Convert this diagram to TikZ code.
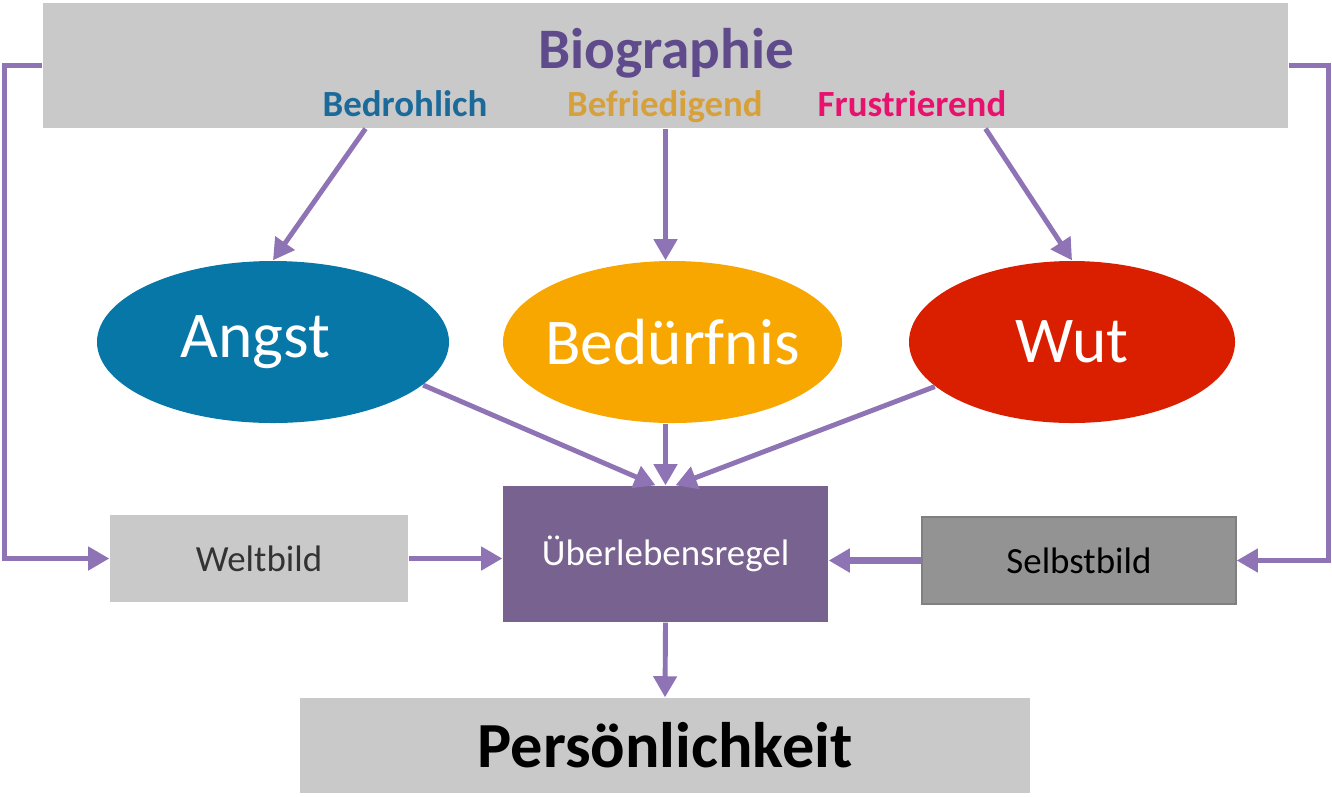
\documentclass[tikz,border=0pt]{standalone}
\usepackage{fontspec}
\setmainfont{Carlito}
\usepackage{xcolor}
\definecolor{bargray}{HTML}{C9C9C9}
\definecolor{biopurple}{HTML}{5F4B8B}
\definecolor{arrowlila}{HTML}{8E73B5}
\definecolor{regelpurple}{HTML}{78628F}
\definecolor{angstblue}{HTML}{0777A8}
\definecolor{bedorange}{HTML}{F7A700}
\definecolor{wutred}{HTML}{DA1F00}
\definecolor{bedrblue}{HTML}{1B6A9A}
\definecolor{befrgold}{HTML}{D6A13C}
\definecolor{frustpink}{HTML}{E8126E}
\definecolor{selbgray}{HTML}{939393}
\usepackage{tikz}
\usetikzlibrary{shapes.geometric, arrows.meta, positioning, calc}

\begin{document}
\begin{tikzpicture}[
  box/.style={rectangle, inner sep=0pt, align=center, font=\fontsize{10.5}{12}\selectfont},
  emo/.style={ellipse, inner sep=0pt, minimum width=3.5cm, minimum height=1.62cm,
              text=white, font=\fontsize{18.6}{22}\selectfont},
  lbl/.style={anchor=base, inner sep=0pt, font=\bfseries\fontsize{10.5}{12}\selectfont},
  arr/.style={-{Triangle[length=6pt, width=6.5pt]}, line width=1.4pt, color=arrowlila}
]
\useasboundingbox (0,0) rectangle (13.32,-7.96);

\node[box, fill=bargray, minimum width=12.45cm, minimum height=1.25cm] (bio) at (6.655,-0.655) {};
\node[lbl, text=biopurple, font=\bfseries\fontsize{16.3}{19}\selectfont] (biot) at (6.66,-0.68) {Biographie};
\node[lbl, text=bedrblue] (bedr) at (4.05,-1.16) {Bedrohlich};
\node[lbl, text=befrgold] (befr) at (6.65,-1.16) {Befriedigend};
\node[lbl, text=frustpink] (frust) at (9.12,-1.16) {Frustrierend};

\node[emo, fill=angstblue, minimum width=3.52cm] (angst) at (2.73,-3.42) {Angst\hspace*{0.35cm}};
\node[emo, fill=bedorange, minimum width=3.39cm, inner xsep=-2.2pt] (bed) at (6.725,-3.42) {Bedürfnis};
\node[emo, fill=wutred, minimum width=3.26cm] (wut) at (10.72,-3.42) {Wut};

\node[box, fill=regelpurple, text=white, minimum width=3.25cm, minimum height=1.36cm] (ueber) at (6.655,-5.54) {Überlebensregel};
\node[box, fill=bargray, text=black!80, minimum width=2.98cm, minimum height=0.87cm] (welt) at (2.59,-5.585) {Weltbild};
\node[box, fill=selbgray, draw=black!50, text=black, minimum width=3.14cm, minimum height=0.87cm] (selb) at (10.79,-5.605) {Selbstbild};
\node[box, fill=bargray, minimum width=7.3cm, minimum height=0.95cm,
      font=\bfseries\fontsize{18.3}{22}\selectfont] (pers) at (6.65,-7.455) {Persönlichkeit};

\draw[arr] ($(bio.south)+(-3.0,0)$) -- (angst.north);
\draw[arr] (bio.south) -- (bio.south |- bed.north);
\draw[arr] ($(bio.south)+(3.2,0)$) -- (wut.north);

\draw[arr] (angst.-16) -- ([xshift=-1mm]ueber.north);
\draw[arr] (bed.south -| ueber.north) -- (ueber.north);
\draw[arr] (wut.198) -- ([xshift=1mm]ueber.north);

\draw[arr] (bio.west) -- ++(-0.38,0) |- (welt.west);
\draw[arr] (bio.east) -- ++(0.4,0) |- (selb.east);
\draw[arr] (welt.east) -- (welt.east -| ueber.west);
\draw[arr, line width=1.8pt] (selb.west) -- (selb.west -| ueber.east);
\draw[arr] (ueber.south) -- (pers.north);
\end{tikzpicture}
\end{document}
